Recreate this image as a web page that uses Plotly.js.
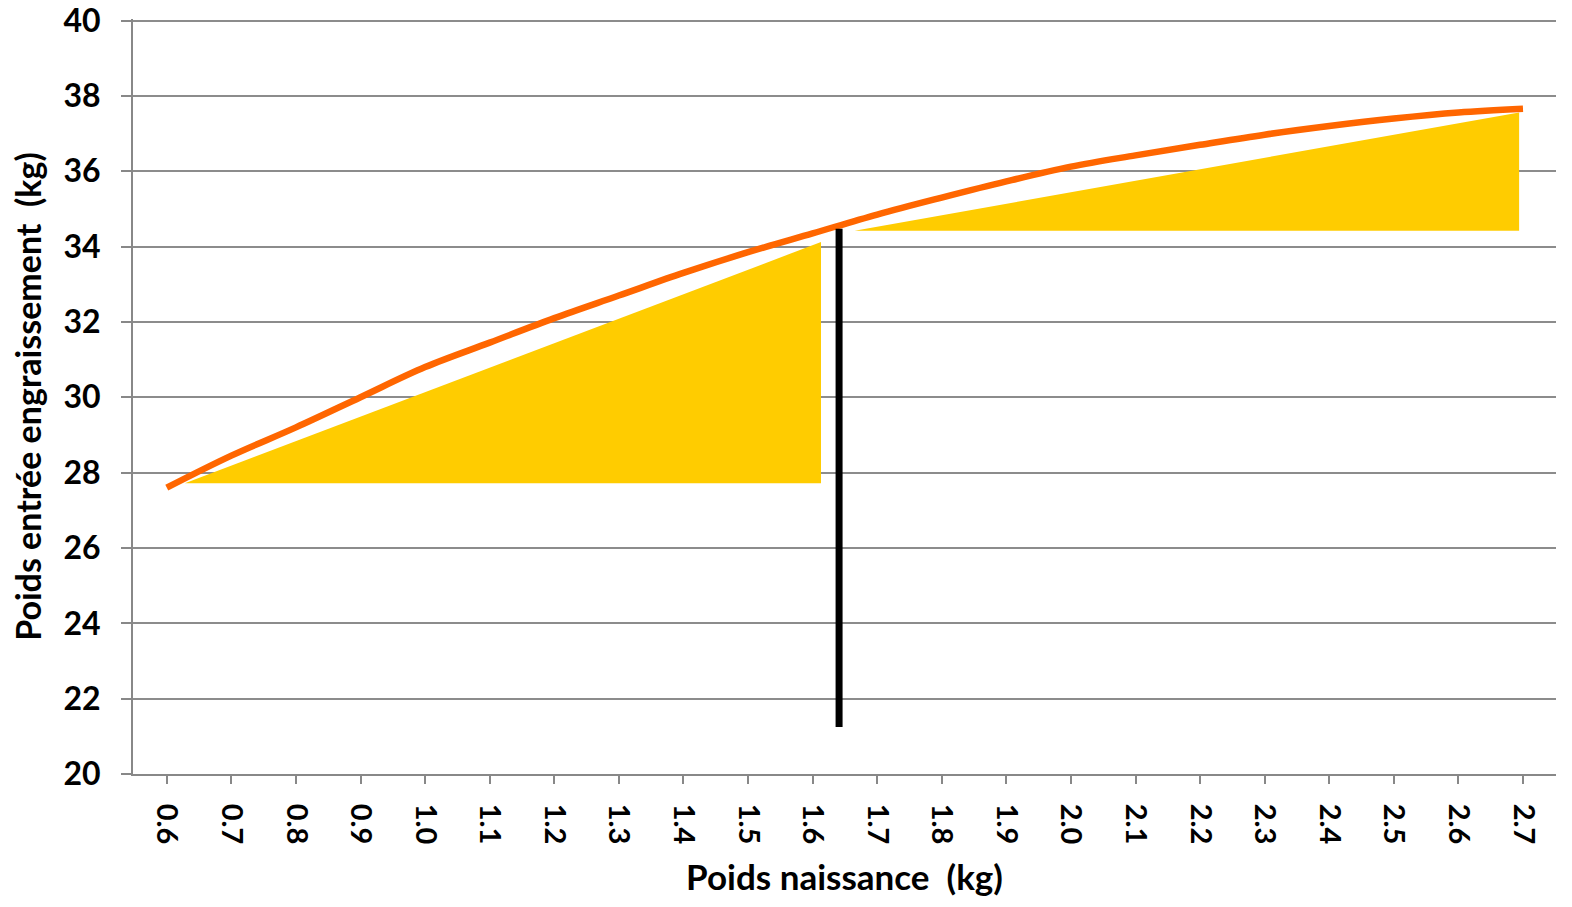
<!DOCTYPE html>
<html>
<head>
<meta charset="utf-8">
<script src="https://cdn.plot.ly/plotly-3.0.1.min.js"></script>
<style>html,body{margin:0;padding:0;background:#fff;}#chart{width:1572px;height:907px;}</style>
</head>
<body>
<div id="chart"></div>
<script>
// Birth weight (kg) and weight at entry to fattening (kg)
const birthWeight = [0.6,0.7,0.8,0.9,1.0,1.1,1.2,1.3,1.4,1.5,1.6,1.7,1.8,1.9,2.0,2.1,2.2,2.3,2.4,2.5,2.6,2.7];
const entryWeight = [27.6,28.45,29.2,30.0,30.8,31.45,32.1,32.7,33.3,33.85,34.35,34.85,35.3,35.73,36.12,36.42,36.7,36.97,37.2,37.4,37.56,37.66];

// Yellow triangles (x in kg, y in kg)
const tri1X = [0.628, 1.613, 1.613, 0.628];
const tri1Y = [27.72, 27.72, 34.12, 27.72];
const tri2X = [1.665, 2.694, 2.694, 1.665];
const tri2Y = [34.42, 34.42, 37.56, 34.42];

// Black vertical marker
const markerX = [1.641, 1.641];
const markerY = [21.25, 34.47];

const xTickVals = birthWeight;
const xTickText = birthWeight.map(v => v.toFixed(1));

const font = "Lato, 'Open Sans', sans-serif";

const traces = [
  {x: tri1X, y: tri1Y, type: 'scatter', mode: 'lines', fill: 'toself', fillcolor: '#FFCC00', line: {width: 0, color: '#FFCC00'}, hoverinfo: 'skip'},
  {x: tri2X, y: tri2Y, type: 'scatter', mode: 'lines', fill: 'toself', fillcolor: '#FFCC00', line: {width: 0, color: '#FFCC00'}, hoverinfo: 'skip'},
  {x: birthWeight, y: entryWeight, type: 'scatter', mode: 'lines', line: {color: '#FF6600', width: 6.5, shape: 'spline'}},
  {x: markerX, y: markerY, type: 'scatter', mode: 'lines', line: {color: '#000000', width: 7}}
];

const layout = {
  width: 1572, height: 907,
  margin: {l: 133, r: 16, t: 19, b: 133},
  paper_bgcolor: '#fff', plot_bgcolor: '#fff',
  showlegend: false,
  font: {family: font, color: '#000'},
  xaxis: {
    range: [0.5477, 2.7511],
    tickmode: 'array', tickvals: xTickVals, ticktext: xTickText,
    tickangle: 90,
    tickfont: {family: font, size: 29, weight: 'bold', color: '#000'},
    ticks: 'outside', ticklen: 8, tickwidth: 2, tickcolor: '#888',
    ticklabelstandoff: 14,
    showgrid: false, zeroline: false,
    showline: true, linecolor: '#888', linewidth: 2,
    title: {text: 'Poids naissance&nbsp;&nbsp;(kg)', font: {family: font, size: 35, weight: 'bold', color: '#000'}, standoff: 22}
  },
  yaxis: {
    range: [20, 40.04], tick0: 20, dtick: 2,
    tickfont: {family: font, size: 32, weight: 'bold', color: '#000'},
    ticks: 'outside', ticklen: 10, tickwidth: 2, tickcolor: '#888',
    ticklabelstandoff: 14, ticklabeloverflow: 'allow',
    showgrid: true, gridcolor: '#8c8c8c', gridwidth: 2,
    zeroline: false,
    showline: true, linecolor: '#888', linewidth: 2,
    title: {text: 'Poids entrée engraissement&nbsp;&nbsp;(kg)', font: {family: font, size: 34, weight: 'bold', color: '#000'}, standoff: 12}
  }
};

Plotly.newPlot('chart', traces, layout, {displayModeBar: false, staticPlot: true});
</script>
</body>
</html>
